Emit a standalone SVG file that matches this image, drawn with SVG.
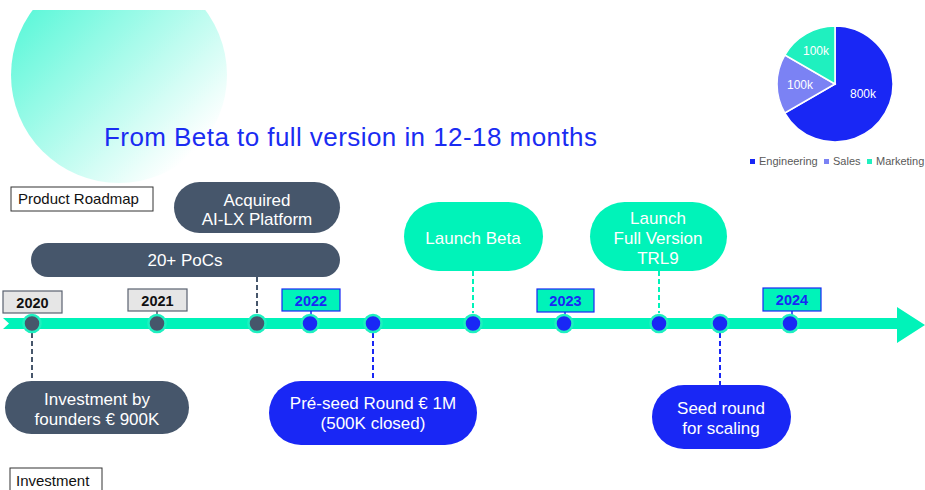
<svg xmlns="http://www.w3.org/2000/svg" width="925" height="490" viewBox="0 0 925 490">
<defs>
<linearGradient id="bg" x1="0" y1="0" x2="1" y2="1">
<stop offset="0" stop-color="#3ff6d2"/>
<stop offset="0.85" stop-color="#ffffff"/>
</linearGradient>
<clipPath id="top"><rect x="0" y="10" width="925" height="480"/></clipPath>
<style>
text{font-family:"Liberation Sans",Arial,sans-serif}
.node text{fill:#ffffff;font-size:17px;text-anchor:middle}
.dark{fill:#46566b}
.blue{fill:#1927f5}
.mint{fill:#00f3b9}
.dash{stroke-width:2;stroke-dasharray:5,3;fill:none}
.dot{stroke:#1ef0c0;stroke-width:2.5}
.yr{font-size:14.5px;font-weight:bold;text-anchor:middle}
.lbl{fill:#fff;stroke:#333;stroke-width:1}
.lgd{font-size:11px;fill:#595959}
.pie{font-size:12px;fill:#fff;text-anchor:middle}
</style>
</defs>
<rect width="925" height="490" fill="#ffffff"/>
<circle cx="119" cy="75" r="108" fill="url(#bg)" clip-path="url(#top)"/>
<text x="104" y="146" font-size="26" fill="#1a2cf2" textLength="493">From Beta to full version in 12-18 months</text>

<g id="pie">
<path d="M835,84 L835,26 A58,58 0 1 1 784.8,113 Z" fill="#1927f5" stroke="#fff" stroke-width="1.5"/>
<path d="M835,84 L784.8,113 A58,58 0 0 1 784.8,55 Z" fill="#7b82f4" stroke="#fff" stroke-width="1.5"/>
<path d="M835,84 L784.8,55 A58,58 0 0 1 835,26 Z" fill="#1ff0bf" stroke="#fff" stroke-width="1.5"/>
<text class="pie" x="863" y="98">800k</text>
<text class="pie" x="816" y="55">100k</text>
<text class="pie" x="800" y="89">100k</text>
<rect x="750" y="159" width="5" height="5" fill="#1927f5"/>
<text class="lgd" x="759" y="165">Engineering</text>
<rect x="824" y="159" width="5" height="5" fill="#7b82f4"/>
<text class="lgd" x="833" y="165">Sales</text>
<rect x="867" y="159" width="5" height="5" fill="#1ff0bf"/>
<text class="lgd" x="876" y="165">Marketing</text>
</g>

<g id="label-roadmap">
<rect x="11" y="187" width="142" height="24" class="lbl"/>
<text x="18" y="204" font-size="15" fill="#111">Product Roadmap</text>
</g>
<g id="label-investment">
<rect x="10" y="468" width="92" height="30" class="lbl"/>
<text x="16" y="486" font-size="15" fill="#111">Investment</text>
</g>

<g id="connectors">
<path class="dash" stroke="#46566b" d="M257,277 V313"/>
<path class="dash" stroke="#46566b" d="M32,333 V381"/>
<path class="dash" stroke="#1927f5" d="M373,333 V381"/>
<path class="dash" stroke="#1927f5" d="M720,333 V385"/>
<path class="dash" stroke="#00f3b9" d="M473,271 V313"/>
<path class="dash" stroke="#00f3b9" d="M659,271 V313"/>
<path stroke="#46566b" stroke-width="1.5" d="M157,311 V315"/>
<path stroke="#1927f5" stroke-width="1.5" d="M311,311 V315 M565,312 V315 M792,311 V315"/>
</g>

<g id="timeline">
<polygon points="3,318 897,318 897,307 925,325 897,343 897,329 3,329 9,323.5" fill="#00f3b9"/>
</g>

<g id="years">
<g id="y2020"><rect x="3" y="291" width="59" height="22" fill="#e6e6e6" stroke="#5a6270" stroke-width="1.2"/><text class="yr" x="32.5" y="307.5" fill="#111">2020</text></g>
<g id="y2021"><rect x="128" y="289" width="59" height="22" fill="#e6e6e6" stroke="#5a6270" stroke-width="1.2"/><text class="yr" x="157.5" y="305.5" fill="#111">2021</text></g>
<g id="y2022"><rect x="282" y="289" width="58" height="22" fill="#00f3b9" stroke="#1927f5" stroke-width="1.2"/><text class="yr" x="311" y="305.5" fill="#1927f5">2022</text></g>
<g id="y2023"><rect x="537" y="289" width="57" height="23" fill="#00f3b9" stroke="#1927f5" stroke-width="1.2"/><text class="yr" x="565.5" y="305.5" fill="#1927f5">2023</text></g>
<g id="y2024"><rect x="763" y="288" width="58" height="23" fill="#00f3b9" stroke="#1927f5" stroke-width="1.2"/><text class="yr" x="792" y="304.5" fill="#1927f5">2024</text></g>
</g>

<g id="dots">
<circle class="dot dark" cx="32" cy="323.5" r="8.5"/>
<circle class="dot dark" cx="157" cy="323.5" r="8.5"/>
<circle class="dot dark" cx="257" cy="323.5" r="8.5"/>
<circle class="dot blue" cx="310" cy="323.5" r="8.5"/>
<circle class="dot blue" cx="373" cy="323.5" r="8.5"/>
<circle class="dot blue" cx="473" cy="323.5" r="8.5"/>
<circle class="dot blue" cx="564" cy="323.5" r="8.5"/>
<circle class="dot blue" cx="659" cy="323.5" r="8.5"/>
<circle class="dot blue" cx="720" cy="323.5" r="8.5"/>
<circle class="dot blue" cx="790" cy="323.5" r="8.5"/>
</g>

<g id="acquired" class="node">
<rect x="174" y="182" width="166" height="51" rx="25.5" class="dark"/>
<text x="257" y="206">Acquired</text>
<text x="257" y="225">AI-LX Platform</text>
</g>
<g id="pocs" class="node">
<rect x="31" y="243" width="309" height="34" rx="17" class="dark"/>
<text x="185" y="266">20+ PoCs</text>
</g>
<g id="founders" class="node">
<rect x="5" y="381" width="184" height="53" rx="26.5" class="dark"/>
<text x="97" y="405">Investment by</text>
<text x="97" y="425">founders € 900K</text>
</g>
<g id="preseed" class="node">
<rect x="269" y="381" width="208" height="64" rx="32" class="blue"/>
<text x="373" y="409">Pré-seed Round € 1M</text>
<text x="373" y="429">(500K closed)</text>
</g>
<g id="beta" class="node">
<rect x="404" y="202" width="139" height="69" rx="34.5" class="mint"/>
<text x="473" y="244">Launch Beta</text>
</g>
<g id="full" class="node">
<rect x="590" y="202" width="137" height="69" rx="34.5" class="mint"/>
<text x="658" y="224">Launch</text>
<text x="658" y="244">Full Version</text>
<text x="658" y="264">TRL9</text>
</g>
<g id="seed" class="node">
<rect x="652" y="385" width="139" height="64" rx="32" class="blue"/>
<text x="721" y="414">Seed round</text>
<text x="721" y="434">for scaling</text>
</g>
</svg>
